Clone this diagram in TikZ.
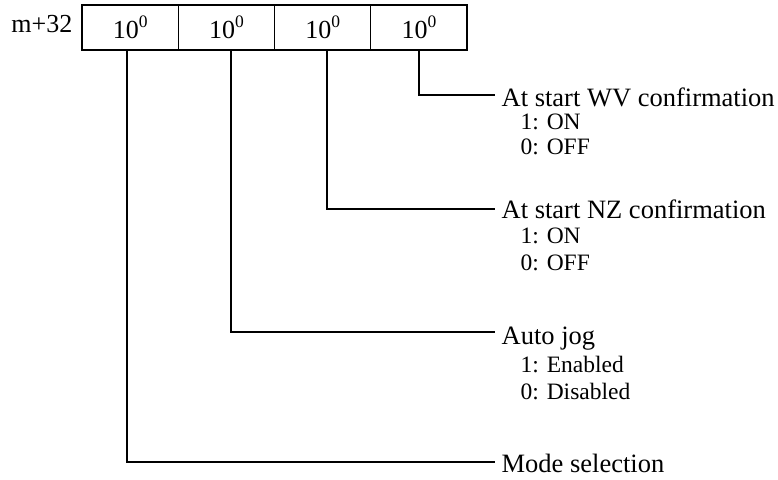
\documentclass[tikz,border=0pt]{standalone}
\usepackage{fontspec}
\setmainfont{Liberation Serif}
\newcommand{\tenpow}{10\raisebox{0.42em}{\fontsize{17.5}{20}\selectfont 0}}
\begin{document}
\begin{tikzpicture}[x=1pt,y=-1pt, line width=1.3pt,
  cell/.style={draw, minimum width=96.25pt, minimum height=45pt, inner sep=0pt, font=\fontsize{26}{30}\selectfont},
  ttl/.style={anchor=base west, inner sep=0pt, font=\fontsize{26.5}{30}\selectfont},
  subitem/.style={anchor=base west, inner sep=0pt, font=\fontsize{23.5}{28}\selectfont},
  conn/.style={line width=1.3pt}]
\useasboundingbox (0,0) rectangle (778,479);
\node[cell] (c1) at (130.125,27.5) {\tenpow};
\node[cell] (c2) at (226.375,27.5) {\tenpow};
\node[cell] (c3) at (322.625,27.5) {\tenpow};
\node[cell] (c4) at (418.875,27.5) {\tenpow};
\node[anchor=base east, inner sep=0pt, font=\fontsize{26}{30}\selectfont] (addr) at (73,32) {m+32};

\node[ttl] (t1) at (501,106) {At start WV confirmation};
\node[subitem] (s1a) at (520,129) {1: ON};
\node[subitem] (s1b) at (520,154) {0: OFF};

\node[ttl] (t2) at (501,218.5) {At start NZ confirmation};
\node[subitem] (s2a) at (520,243.5) {1: ON};
\node[subitem] (s2b) at (520,270) {0: OFF};

\node[ttl] (t3) at (501,344) {Auto jog};
\node[subitem] (s3a) at (520,372) {1: Enabled};
\node[subitem] (s3b) at (520,399) {0: Disabled};

\node[ttl] (t4) at (501,472) {Mode selection};

\coordinate (e1) at ([xshift=-6.5pt,yshift=11pt]t1.base west);
\coordinate (e2) at ([xshift=-6.5pt,yshift=9.5pt]t2.base west);
\coordinate (e3) at ([xshift=-6.5pt,yshift=12pt]t3.base west);
\coordinate (e4) at ([xshift=-6.5pt,yshift=10pt]t4.base west);

\draw[conn] ([xshift=0.125pt]c4.south) |- (e1);
\draw[conn] ([xshift=4.375pt]c3.south) |- (e2);
\draw[conn] ([xshift=4.625pt]c2.south) |- (e3);
\draw[conn] ([xshift=-3.125pt]c1.south) |- (e4);
\end{tikzpicture}
\end{document}
